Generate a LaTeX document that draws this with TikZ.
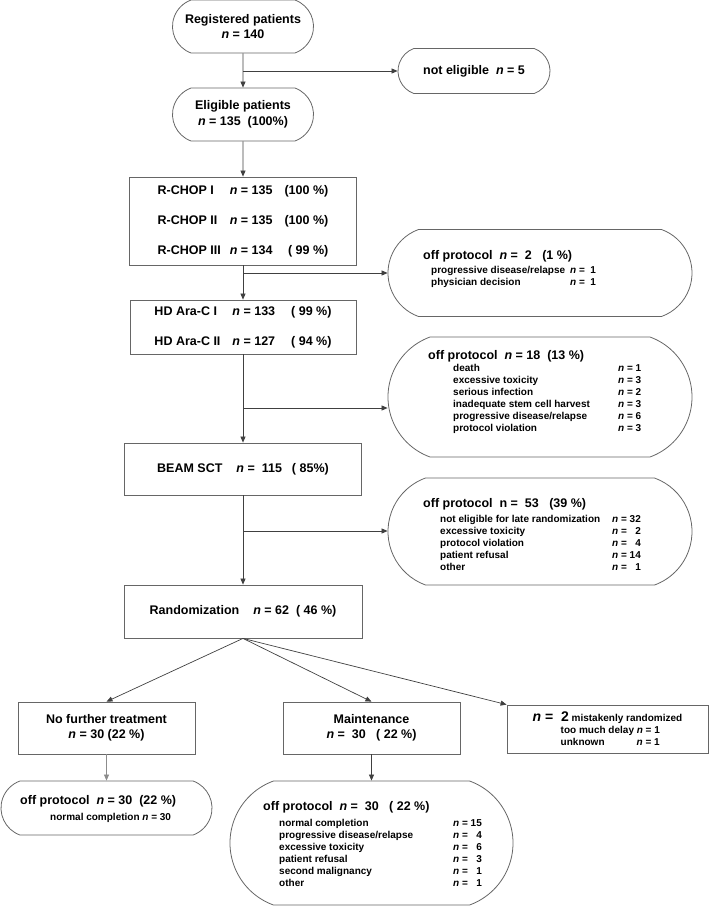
\documentclass[tikz,border=0pt]{standalone}
\usepackage{fontspec}
\setmainfont{Liberation Sans}
\usetikzlibrary{arrows.meta,shapes.misc}
\newcommand{\pn}{\textit{n}}
\newcommand{\titlef}{\fontsize{12.5}{15}\selectfont}
\tikzset{
  box/.style={draw=black!60, line width=0.8pt, align=center, inner sep=0pt,
    font=\fontsize{12.5}{15}\selectfont\bfseries},
  roundbox/.style={box, rounded rectangle, rounded rectangle arc length=140},
  list/.style={anchor=base west, align=left, inner sep=0pt,
    font=\fontsize{10}{12}\selectfont\bfseries},
  arr/.style={draw=black!75, line width=0.7pt, -{Triangle[length=6pt,width=5pt]}}
}
\begin{document}
\begin{tikzpicture}[x=1pt,y=-1pt]
  \useasboundingbox (0,0) rectangle (709,906);
  % main column
  \node[roundbox, minimum width=141, minimum height=53] (reg) at (243,26.5)
    {Registered patients\\\pn{} = 140};
  \node[roundbox, minimum width=141, minimum height=53] (elig) at (243,114.5)
    {Eligible patients\\[1pt]\pn{} = 135~ (100\%)};
  \node[roundbox, minimum width=152, minimum height=45] (ne) at (474,71)
    {not eligible~ \pn{} = 5};
  \node[box, minimum width=227, minimum height=88] (chop) at (243,221)
    {\begin{tabular}{@{}l@{\hspace{9pt}}l@{\hspace{12pt}}r@{}}
      R-CHOP I & \pn{} = 135 & (100 \%)\\[15pt]
      R-CHOP II & \pn{} = 135 & (100 \%)\\[15pt]
      R-CHOP III & \pn{} = 134 & ( 99 \%)
    \end{tabular}};
  \node[box, minimum width=226, minimum height=54] (hd) at (243,327)
    {\begin{tabular}{@{}l@{\hspace{12pt}}l@{\hspace{16pt}}r@{}}
      HD Ara-C I & \pn{} = 133 & ( 99 \%)\\[15pt]
      HD Ara-C II & \pn{} = 127 & ( 94 \%)
    \end{tabular}};
  \node[box, minimum width=237, minimum height=52] (beam) at (243,469)
    {BEAM SCT\hspace{14pt}\pn{} = ~115\hspace{10pt}( 85\%)};
  \node[box, minimum width=238, minimum height=53] (rand) at (243,611.5)
    {Randomization\hspace{14pt}\pn{} = 62~ ( 46 \%)};
  % off protocol boxes
  \node[roundbox, minimum width=304, minimum height=87] (op1) at (540,273) {};
  \node[roundbox, minimum width=304, minimum height=120] (op2) at (540,397) {};
  \node[roundbox, minimum width=304, minimum height=107] (op3) at (540,531.5) {};
  % list texts, placed by the baseline of their last line
  \node[list] (op1t) at (423,285)
    {{\titlef off protocol~ \pn{} = ~2~~ (1 \%)}\\[2pt]
     \hspace*{8pt}\makebox[139pt][l]{progressive disease/relapse}\pn{} = ~1\\
     \hspace*{8pt}\makebox[139pt][l]{physician decision}\pn{} = ~1};
  \node[list] (op2t) at (428,431.5)
    {{\titlef off protocol~ \pn{} = 18~ (13 \%)}\\[0.5pt]
     \hspace*{25pt}\makebox[165pt][l]{death}\pn{} = 1\\
     \hspace*{25pt}\makebox[165pt][l]{excessive toxicity}\pn{} = 3\\
     \hspace*{25pt}\makebox[165pt][l]{serious infection}\pn{} = 2\\
     \hspace*{25pt}\makebox[165pt][l]{inadequate stem cell harvest}\pn{} = 3\\
     \hspace*{25pt}\makebox[165pt][l]{progressive disease/relapse}\pn{} = 6\\
     \hspace*{25pt}\makebox[165pt][l]{protocol violation}\pn{} = 3};
  \node[list] (op3t) at (423,570.5)
    {{\titlef off protocol~ n = ~53~~ (39 \%)}\\[3.5pt]
     \hspace*{17pt}\makebox[172pt][l]{not eligible for late randomization}\pn{} = 32\\
     \hspace*{17pt}\makebox[172pt][l]{excessive toxicity}\pn{} = \hphantom{0}2\\
     \hspace*{17pt}\makebox[172pt][l]{protocol violation}\pn{} = \hphantom{0}4\\
     \hspace*{17pt}\makebox[172pt][l]{patient refusal}\pn{} = 14\\
     \hspace*{17pt}\makebox[172pt][l]{other}\pn{} = \hphantom{0}1};
  % randomized arms
  \node[box, minimum width=177, minimum height=52] (nft) at (106.5,728)
    {No further treatment\\\pn{} = 30 (22 \%)};
  \node[box, minimum width=177, minimum height=52] (maint) at (371.5,728)
    {Maintenance\\\pn{} = ~30~~ ( 22 \%)};
  \node[box, minimum width=201, minimum height=48,
        font=\fontsize{10}{12}\selectfont\bfseries, align=left] (mist) at (607.5,729)
    {{\fontsize{14}{15}\selectfont\pn{} = ~2} mistakenly randomized\\
     \hspace*{28pt}too much delay \pn{} = 1\\
     \hspace*{28pt}\makebox[76pt][l]{unknown}\pn{} = 1};
  \node[roundbox, minimum width=211, minimum height=54] (op4) at (106.5,808) {};
  \node[roundbox, minimum width=283, minimum height=124] (op5) at (371.5,843) {};
  \node[list] (op4t) at (20,820)
    {{\titlef off protocol~ \pn{} = 30~ (22 \%)}\\[4pt]
     \hspace*{30pt}normal completion \pn{} = 30};
  \node[list] (op5t) at (263,886.5)
    {{\titlef off protocol~ \pn{} = ~30~~ ( 22 \%)}\\[4.5pt]
     \hspace*{16pt}\makebox[174pt][l]{normal completion}\pn{} = 15\\
     \hspace*{16pt}\makebox[174pt][l]{progressive disease/relapse}\pn{} = \hphantom{0}4\\
     \hspace*{16pt}\makebox[174pt][l]{excessive toxicity}\pn{} = \hphantom{0}6\\
     \hspace*{16pt}\makebox[174pt][l]{patient refusal}\pn{} = \hphantom{0}3\\
     \hspace*{16pt}\makebox[174pt][l]{second malignancy}\pn{} = \hphantom{0}1\\
     \hspace*{16pt}\makebox[174pt][l]{other}\pn{} = \hphantom{0}1};
  % connectors
  \coordinate (b0) at (243,71);
  \coordinate (b1) at (243,273);
  \coordinate (b2) at (243,408);
  \coordinate (b3) at (243,531);
  \draw[arr] (reg) -- (elig);
  \draw[arr] (b0) -- (b0 -| ne.west);
  \draw[arr] (elig) -- (chop);
  \draw[arr] (chop) -- (hd);
  \draw[arr] (b1) -- (b1 -| op1.west);
  \draw[arr] (hd) -- (beam);
  \draw[arr] (b2) -- (b2 -| op2.west);
  \draw[arr] (beam) -- (rand);
  \draw[arr] (b3) -- (b3 -| op3.west);
  \draw[arr] (rand.south) -- (nft.north);
  \draw[arr] (rand.south) -- (maint.north);
  \draw[arr] (rand.south) -- (mist.north west);
  \draw[arr, draw=black!45] (nft) -- (op4);
  \draw[arr] (maint) -- (op5);
\end{tikzpicture}
\end{document}
